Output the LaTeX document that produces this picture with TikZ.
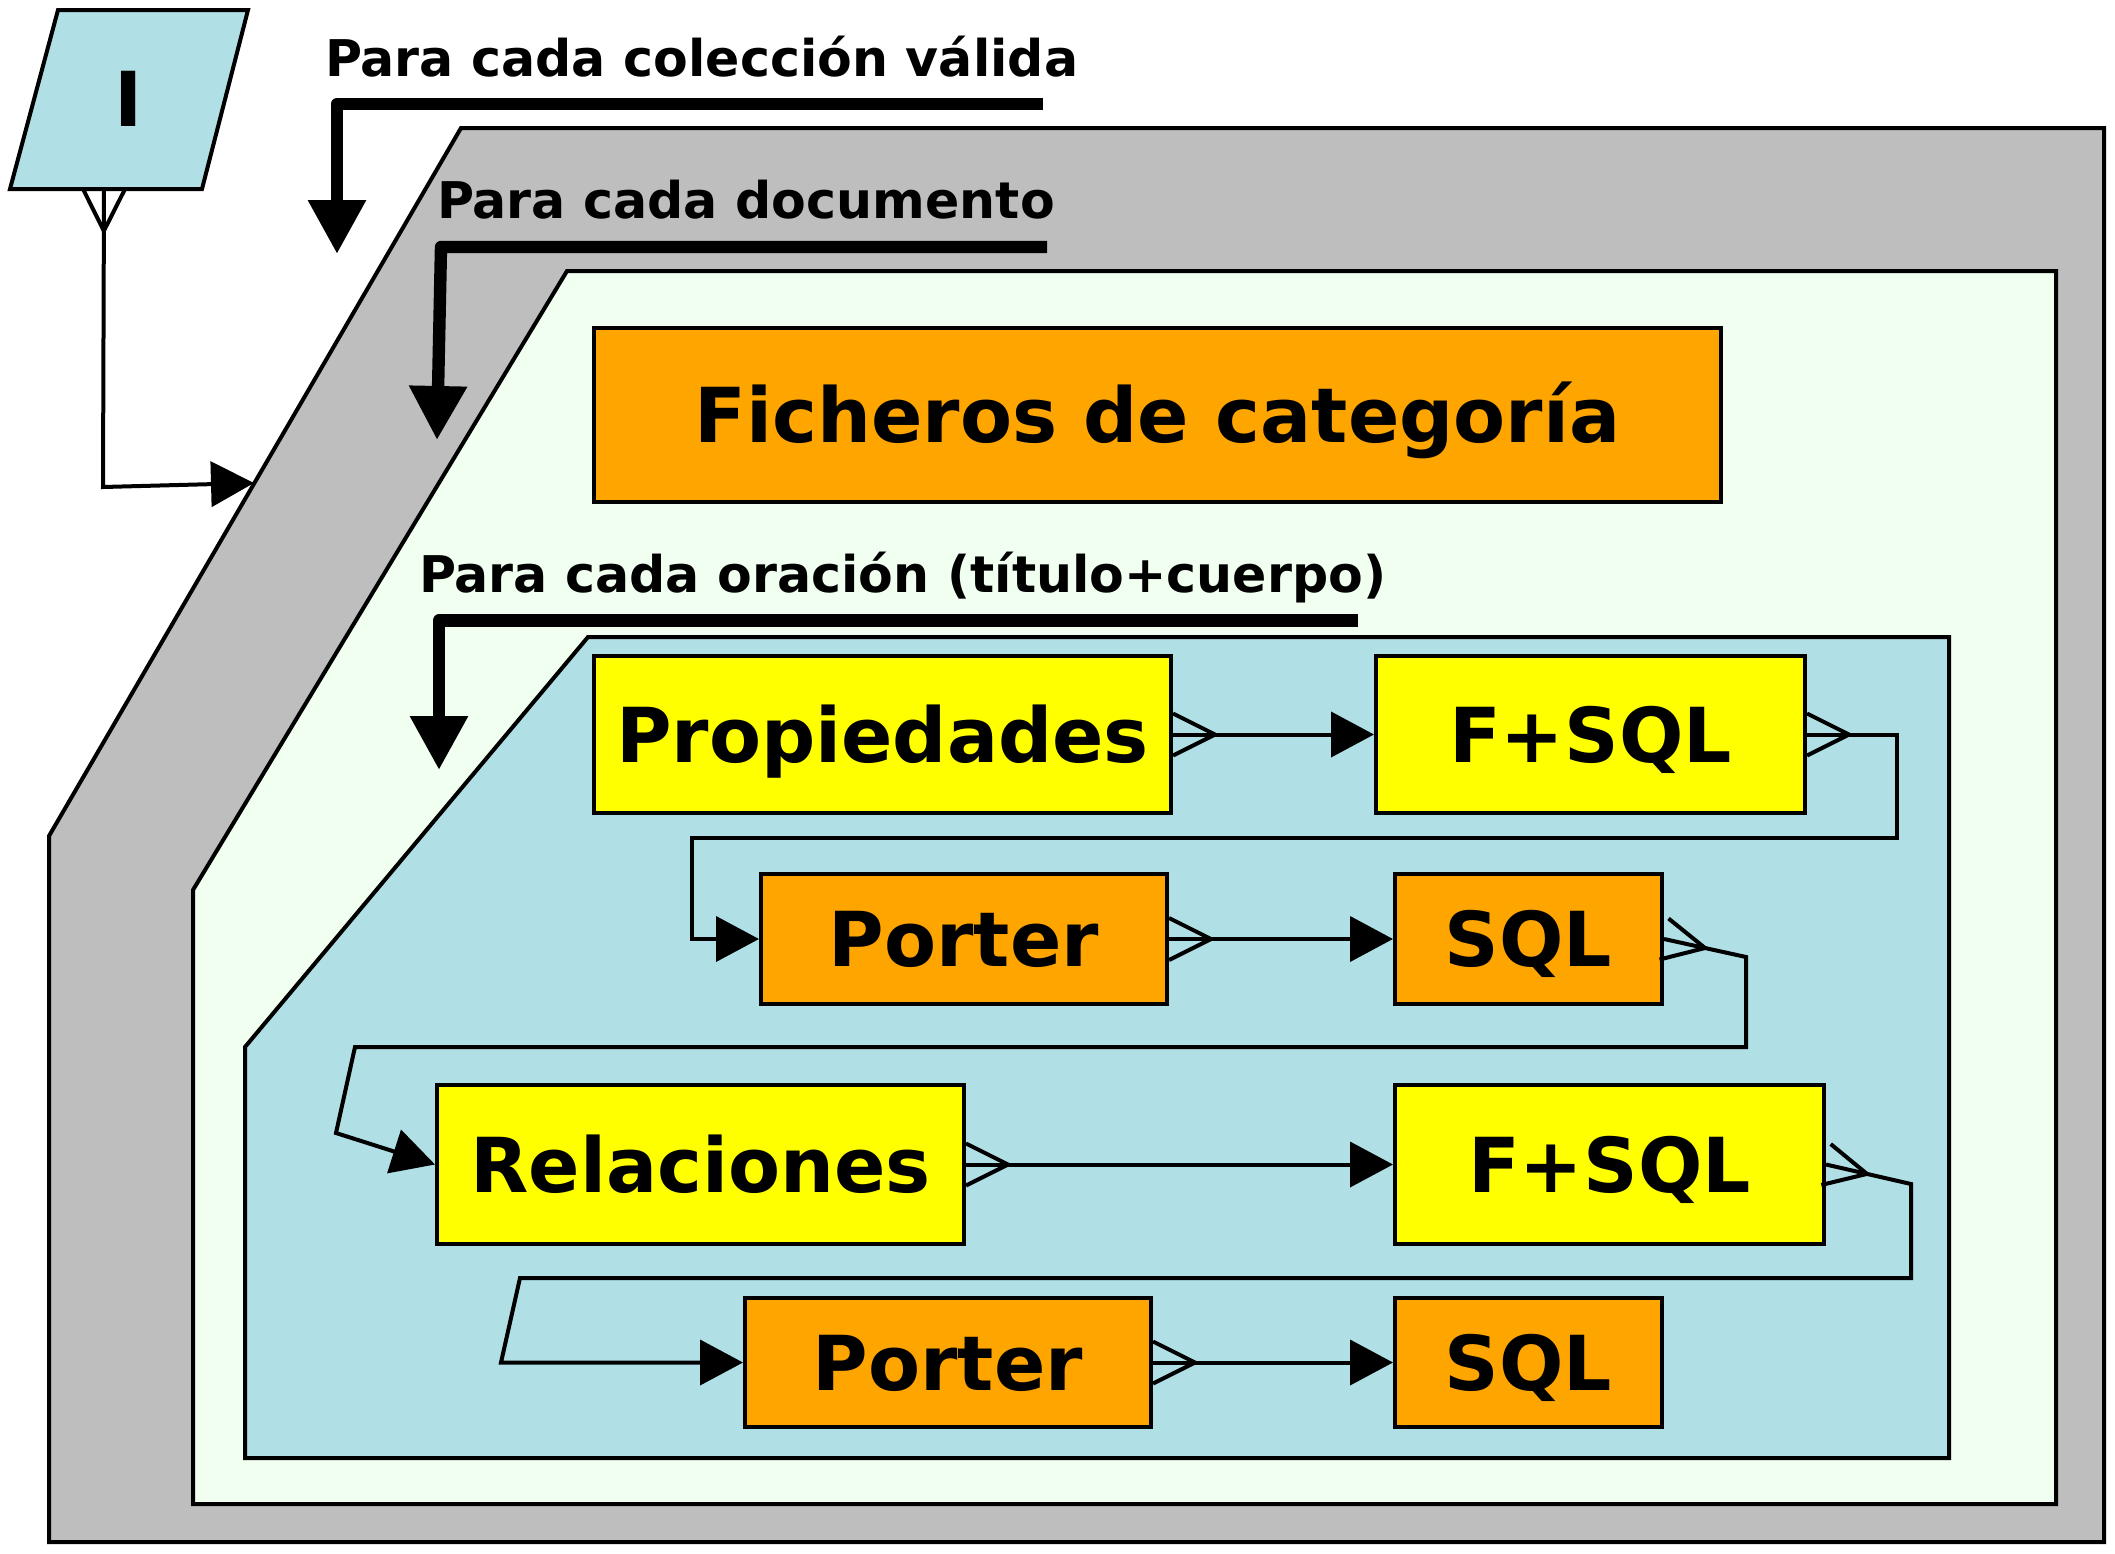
\documentclass[tikz,border=0pt]{standalone}
\usepackage{fontspec}
\setmainfont{DejaVu Sans}
\usetikzlibrary{arrows.meta,decorations.markings,calc}
\definecolor{cgray}{HTML}{BEBEBE}
\definecolor{cgreen}{HTML}{F0FFF0}
\definecolor{cblue}{HTML}{B0E0E6}
\definecolor{corange}{HTML}{FFA500}
\definecolor{cyellow}{HTML}{FFFF00}
\begin{document}
\begin{tikzpicture}[x=0.5pt,y=-0.5pt, line width=2pt,
 box/.style={draw, inner sep=0pt, text height=27.6pt, text depth=0pt,
   font=\bfseries\fontsize{37.9}{45}\selectfont, line width=2pt},
 ybox/.style={box, fill=cyellow},
 obox/.style={box, fill=corange},
 lab/.style={anchor=base west, inner sep=0pt, font=\bfseries\fontsize{25.3}{30}\selectfont},
 crow/.style={postaction={decorate,decoration={markings,
   mark=at position 0 with {\draw[line width=2pt,-] (0pt,10.5pt) -- (21pt,0pt) -- (0pt,-10.5pt);}}}},
 conn/.style={line width=2pt, -{Triangle[length=21.5pt,width=22.5pt]}, crow},
 loopar/.style={line width=6.2pt, line join=round, -{Triangle[length=27pt,width=27.5pt]}},
 cont/.style={draw, line width=2pt}
]
\useasboundingbox (0,0) rectangle (2115,1553);

% containers
\path[cont, fill=cgray] (461,128) -- (2104,128) -- (2104,1542) -- (49,1542) -- (49,836) -- cycle;
\path[cont, fill=cgreen] (567,271) -- (2056,271) -- (2056,1504) -- (193,1504) -- (193,890) -- cycle;
\path[cont, fill=cblue] (588,637) -- (1949,637) -- (1949,1458) -- (245,1458) -- (245,1047) -- cycle;

% input parallelogram
\path[cont, fill=cblue] (58,10) -- (248,10) -- (202,189) -- (10,189) -- cycle;
\node[inner sep=0pt, text height=27.6pt, text depth=0pt, font=\bfseries\fontsize{37.9}{45}\selectfont] (inp) at (129,99) {I};
\coordinate (ibot) at (104,189);
\coordinate (ibend) at (103,487);
\coordinate (gin) at (254,483);
\draw[conn] (ibot) -- (ibend) -- (gin);

% labels
\node[lab] (l1) at (323,76) {Para cada colección válida};
\node[lab] (l2) at (435,218) {Para cada documento};
\node[lab] (l3) at (417,592) {Para cada oración (título+cuerpo)};

% loop arrows
\coordinate (a1s) at (1043,104); \coordinate (a1c) at (337,104); \coordinate (a1e) at (337,254);
\draw[loopar] (a1s) -- (a1c) -- (a1e);
\coordinate (a2s) at (1047,247); \coordinate (a2c) at (441,247); \coordinate (a2e) at (437,440);
\draw[loopar] (a2s) -- (a2c) -- (a2e);
\coordinate (a3s) at (1358,620.5); \coordinate (a3c) at (439,620.5); \coordinate (a3e) at (439,770);
\draw[loopar] (a3s) -- (a3c) -- (a3e);

% boxes
\node[obox, minimum width=563.5pt, minimum height=87pt] (fich) at (1157.5,415) {Ficheros de categoría};
\node[ybox, minimum width=288.5pt, minimum height=78.5pt] (prop) at (882.5,734.5) {Propiedades};
\node[ybox, minimum width=214.5pt, minimum height=78.5pt] (fsqlA) at (1590.5,734.5) {F+SQL};
\node[obox, minimum width=203pt, minimum height=65pt] (portA) at (964,939) {Porter};
\node[obox, minimum width=133.5pt, minimum height=65pt] (sqlA) at (1528.5,939) {SQL};
\node[ybox, minimum width=263.5pt, minimum height=79.5pt] (rel) at (700.5,1164.5) {Relaciones};
\node[ybox, minimum width=214.5pt, minimum height=79.5pt] (fsqlB) at (1609.5,1164.5) {F+SQL};
\node[obox, minimum width=203pt, minimum height=64.5pt] (portB) at (948,1362.5) {Porter};
\node[obox, minimum width=133.5pt, minimum height=64.5pt] (sqlB) at (1528.5,1362.5) {SQL};

% connectors
\draw[conn] (prop.east) -- (fsqlA.west);
\coordinate (k1) at (1897,734.5); \coordinate (k2) at (1897,838);
\coordinate (k3) at (692,838); \coordinate (k4) at (692,939);
\draw[conn] (fsqlA.east) -- (k1) -- (k2) -- (k3) -- (k4) -- (portA.west);
\draw[conn] (portA.east) -- (sqlA.west);
\coordinate (m1) at (1746,957); \coordinate (m2) at (1746,1047);
\coordinate (m3) at (355,1047); \coordinate (m4) at (336,1133);
\draw[conn] (sqlA.east) -- (m1) -- (m2) -- (m3) -- (m4) -- (rel.west);
\draw[conn] (rel.east) -- (fsqlB.west);
\coordinate (n1) at (1911,1184); \coordinate (n2) at (1911,1278);
\coordinate (n3) at (520,1278); \coordinate (n4) at (501,1362.5);
\draw[conn] (fsqlB.east) -- (n1) -- (n2) -- (n3) -- (n4) -- (portB.west);
\draw[conn] (portB.east) -- (sqlB.west);
\end{tikzpicture}
\end{document}
